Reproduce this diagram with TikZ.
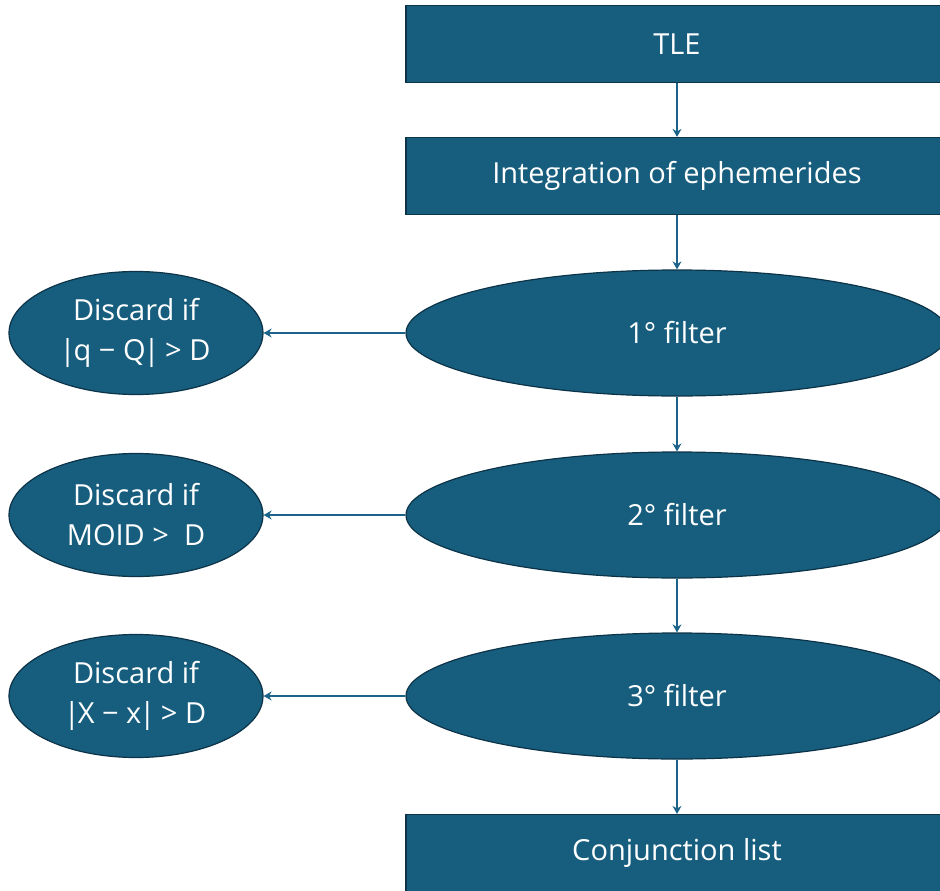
\documentclass[tikz,border=0pt]{standalone}
\usepackage{fontspec}
\setmainfont{Open Sans}
\usetikzlibrary{shapes.geometric,arrows.meta}
\definecolor{boxblue}{HTML}{175E7E}
\definecolor{edgeblue}{HTML}{0C3348}
\definecolor{arrowblue}{HTML}{1B6389}
\newcommand{\absbar}{\kern-2pt|\kern-2pt}

\begin{document}
\begin{tikzpicture}[x=1pt,y=-1pt,
    stagebox/.style={rectangle,draw=edgeblue,line width=1.2pt,fill=boxblue,text=white,
        minimum width=542pt,minimum height=77pt,font=\fontsize{29}{40}\selectfont},
    filterbox/.style={ellipse,draw=edgeblue,line width=1.2pt,fill=boxblue,text=white,
        minimum width=542pt,minimum height=126pt,inner sep=0pt,font=\fontsize{29}{40}\selectfont},
    dropbox/.style={ellipse,draw=edgeblue,line width=1.2pt,fill=boxblue,text=white,
        minimum width=254pt,minimum height=123pt,inner sep=0pt,align=center,
        font=\fontsize{29}{40}\selectfont},
    flow/.style={arrowblue,line width=1.6pt,-{Stealth[length=8pt,width=9pt]}}]
        \useasboundingbox (0,0) rectangle (940,891);
        \clip (0,0) rectangle (940,891);
        % main chain
        \node[stagebox] (tle) at (677,44) {TLE};
        \node[stagebox] (integ) at (677,176) {Integration of ephemerides};
        \node[filterbox] (filt1) at (677,333) {1° filter};
        \node[filterbox] (filt2) at (677,515) {2° filter};
        \node[filterbox] (filt3) at (677,696) {3° filter};
        \node[stagebox] (conj) at (677,853) {Conjunction list};
        % discard conditions
        \node[dropbox] (drop1) at (136,333) {Discard if\\\absbar q − Q\absbar{} > D};
        \node[dropbox] (drop2) at (136,515) {Discard if\\MOID >~ D};
        \node[dropbox] (drop3) at (136,696) {Discard if\\\absbar X − x\absbar{} > D};
        \draw[flow] (tle) -- (integ);
        \draw[flow] (integ) -- (filt1);
        \draw[flow] (filt1) -- (filt2);
        \draw[flow] (filt2) -- (filt3);
        \draw[flow] (filt3) -- (conj);
        \draw[flow] (filt1) -- (drop1);
        \draw[flow] (filt2) -- (drop2);
        \draw[flow] (filt3) -- (drop3);
    \end{tikzpicture}
\end{document}
